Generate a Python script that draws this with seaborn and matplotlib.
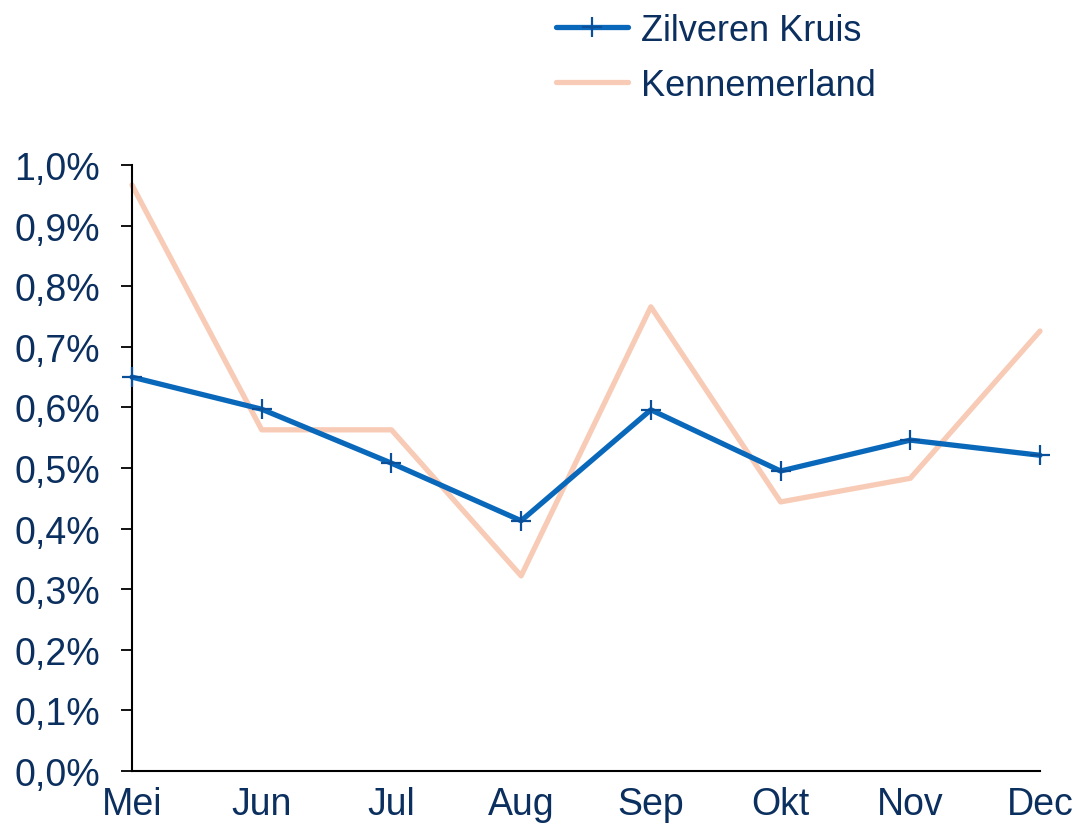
import matplotlib
matplotlib.use("Agg")
import matplotlib.pyplot as plt
import seaborn as sns
import pandas as pd
from matplotlib.ticker import FuncFormatter, MultipleLocator

months = ["Mei", "Jun", "Jul", "Aug", "Sep", "Okt", "Nov", "Dec"]
zilveren_kruis = [0.650, 0.597, 0.508, 0.413, 0.596, 0.495, 0.546, 0.521]
kennemerland = [0.967, 0.563, 0.563, 0.322, 0.766, 0.444, 0.483, 0.726]
series_names = ["Zilveren Kruis", "Kennemerland"]

sns.set_style("white")
plt.rcParams["font.family"] = ["Liberation Sans", "DejaVu Sans"]

text_color = "#0B2F5E"
zk_color = "#0A68BA"
kn_color = "#F8CBB6"

df = pd.DataFrame({
    "x": list(range(len(months))) * 2,
    "value": zilveren_kruis + kennemerland,
    "series": [series_names[0]] * len(months) + [series_names[1]] * len(months),
})

fig = plt.figure(figsize=(10.76, 8.28), dpi=100)
ax = fig.add_axes([132 / 1076, 1 - 772 / 828, (1040 - 132) / 1076, (772 - 166) / 828])

sns.lineplot(data=df[df.series == series_names[1]], x="x", y="value", ax=ax,
             color=kn_color, linewidth=3.8, label=series_names[1], zorder=2,
             clip_on=False)
sns.lineplot(data=df[df.series == series_names[0]], x="x", y="value", ax=ax,
             color=zk_color, linewidth=3.8, marker="+", markersize=14,
             markeredgewidth=1.6, markeredgecolor="#0A4F9A",
             label=series_names[0], zorder=3, clip_on=False)

ax.set_xlim(0, len(months) - 1)
ax.set_ylim(0, 1.0)
ax.yaxis.set_major_locator(MultipleLocator(0.1))
ax.yaxis.set_major_formatter(FuncFormatter(lambda v, p: f"{v:.1f}%".replace(".", ",")))
ax.set_xticks(range(len(months)))
ax.set_xticklabels(months)
ax.set_xlabel("")
ax.set_ylabel("")

for s in ["top", "right"]:
    ax.spines[s].set_visible(False)
for s in ["left", "bottom"]:
    ax.spines[s].set_color("black")
    ax.spines[s].set_linewidth(1.5)

ax.tick_params(axis="y", which="major", length=8, width=1.3, color="black",
               labelsize=27, labelcolor=text_color, pad=15, left=True)
ax.tick_params(axis="x", which="major", length=0, labelsize=27,
               labelcolor=text_color, pad=11)

handles, labels = ax.get_legend_handles_labels()
order = [labels.index(series_names[0]), labels.index(series_names[1])]
ax.legend([handles[i] for i in order], [labels[i] for i in order],
          loc="upper left", bbox_to_anchor=(556 / 1076, 1 - 14 / 828),
          bbox_transform=fig.transFigure, frameon=False, fontsize=26,
          handlelength=2.0, handletextpad=0.35, labelspacing=0.55,
          borderpad=0, borderaxespad=0, labelcolor=text_color)

fig.savefig("out.png", dpi=100)
